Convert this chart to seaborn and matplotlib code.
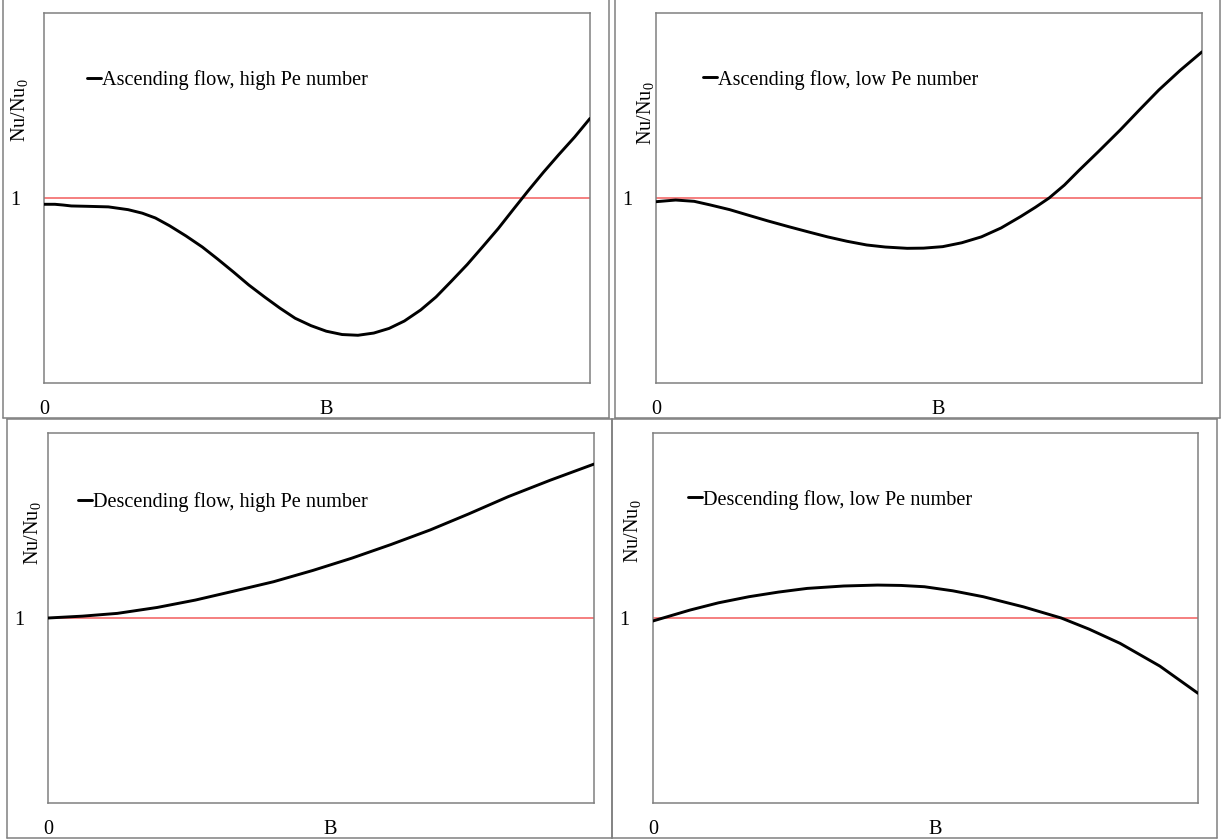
import numpy as np
import pandas as pd
import seaborn as sns
import matplotlib.pyplot as plt
from matplotlib.lines import Line2D

# Data (B as fraction of axis width, Nu/Nu0 with 1 at mid-height)
b_asc_high = [0, 0.02, 0.035, 0.05, 0.08, 0.118, 0.154, 0.18, 0.204, 0.23, 0.26, 0.29,
              0.318, 0.347, 0.375, 0.404, 0.432, 0.46, 0.489, 0.517, 0.546, 0.575, 0.604,
              0.632, 0.66, 0.69, 0.718, 0.746, 0.775, 0.803, 0.832, 0.86, 0.887, 0.915,
              0.943, 0.972, 1.0]
nu_asc_high = [0.966, 0.966, 0.962, 0.957, 0.955, 0.952, 0.937, 0.918, 0.892, 0.85, 0.795, 0.735,
               0.67, 0.6, 0.53, 0.465, 0.405, 0.35, 0.31, 0.28, 0.262, 0.258, 0.27,
               0.295, 0.335, 0.395, 0.465, 0.55, 0.64, 0.735, 0.835, 0.94, 1.04, 1.14,
               1.235, 1.33, 1.43]

b_asc_low = [0, 0.036, 0.07, 0.1, 0.135, 0.168, 0.205, 0.243, 0.28, 0.314, 0.35, 0.386, 0.42,
             0.46, 0.49, 0.525, 0.56, 0.596, 0.632, 0.668, 0.695, 0.72, 0.748, 0.775, 0.81,
             0.85, 0.885, 0.921, 0.96, 1.0]
nu_asc_low = [0.98, 0.989, 0.982, 0.962, 0.937, 0.908, 0.876, 0.845, 0.816, 0.79, 0.766, 0.746,
              0.735, 0.728, 0.729, 0.737, 0.758, 0.79, 0.838, 0.9, 0.95, 1.0, 1.07, 1.15, 1.25,
              1.367, 1.475, 1.584, 1.69, 1.79]

b_desc_high = [0, 0.063, 0.127, 0.2, 0.27, 0.34, 0.413, 0.485, 0.556, 0.628, 0.7, 0.77,
               0.843, 0.92, 1.0]
nu_desc_high = [1.0, 1.01, 1.025, 1.057, 1.097, 1.145, 1.196, 1.257, 1.323, 1.397, 1.476,
                1.562, 1.656, 1.745, 1.832]

b_desc_low = [0, 0.068, 0.12, 0.176, 0.23, 0.283, 0.35, 0.412, 0.455, 0.498, 0.55, 0.606,
              0.68, 0.749, 0.8, 0.857, 0.93, 1.0]
nu_desc_low = [0.984, 1.043, 1.082, 1.115, 1.14, 1.16, 1.173, 1.178, 1.176, 1.169, 1.147,
               1.115, 1.06, 1.0, 0.94, 0.863, 0.74, 0.593]

labels = ["Ascending flow, high Pe number", "Ascending flow, low Pe number",
          "Descending flow, high Pe number", "Descending flow, low Pe number"]
x_ticks = [0, 0.517]
x_ticklabels = ["0", "B"]

sns.set_theme(style="white")
plt.rcParams['font.family'] = ['Liberation Serif', 'DejaVu Serif']
plt.rcParams['mathtext.fontset'] = 'custom'
plt.rcParams['mathtext.rm'] = 'Liberation Serif'
plt.rcParams['mathtext.it'] = 'Liberation Serif:italic'
plt.rcParams['text.color'] = 'black'
plt.rcParams['axes.labelcolor'] = 'black'

W, H = 1225, 840
fig = plt.figure(figsize=(W / 100, H / 100), dpi=100)
gray = '#808080'
fs = 14.6

def px_rect(l, t, r, b):
    return [l / W, 1 - b / H, (r - l) / W, (b - t) / H]

def fig_line(x0, y0, x1, y1):
    fig.add_artist(Line2D([x0 / W, x1 / W], [1 - y0 / H, 1 - y1 / H],
                          transform=fig.transFigure, color=gray, lw=1.1))

# table cell borders
for (l, t, r, b) in [(3, 0, 609, 418), (615, 0, 1220, 418), (7, 419, 612, 838), (612, 419, 1217, 838)]:
    fig_line(l, t, l, b)
    fig_line(r, t, r, b)
    fig_line(l, b, r, b)
fig_line(7, 419, 1217, 419)

panels = [
    (b_asc_high, nu_asc_high, (44, 13, 590, 383), (0.079, 0.819), (-0.044, 0.738)),
    (b_asc_low, nu_asc_low, (656, 13, 1202, 383), (0.086, 0.82), (-0.02, 0.73)),
    (b_desc_high, nu_desc_high, (48, 433, 594, 803), (0.055, 0.814), (-0.029, 0.73)),
    (b_desc_low, nu_desc_low, (653, 433, 1198, 803), (0.064, 0.82), (-0.037, 0.735)),
]

for i, (bx, ny, box, leg_pos, ylab_pos) in enumerate(panels):
    ax = fig.add_axes(px_rect(*box))
    df = pd.DataFrame({'B': bx, 'Nu': ny})
    ax.axhline(1, color='#f25c5c', lw=1.1, zorder=1)
    sns.lineplot(data=df, x='B', y='Nu', ax=ax, color='black', lw=2.1,
                 label=labels[i], zorder=3, sort=False)
    ax.set_xlim(0, 1)
    ax.set_ylim(0, 2)
    ax.set_xticks(x_ticks)
    ax.set_xticklabels(x_ticklabels)
    ax.set_yticks([1])
    ax.set_yticklabels(["1"])
    ax.tick_params(length=0, labelsize=fs, colors='black')
    ax.tick_params(axis='x', pad=12)
    ax.tick_params(axis='y', pad=17)
    ax.set_xlabel("")
    ax.set_ylabel("Nu/Nu$_0$", fontsize=fs, va='center')
    ax.yaxis.set_label_coords(*ylab_pos)
    for s in ax.spines.values():
        s.set_color(gray)
        s.set_linewidth(1.1)
    ax.legend(loc='center left', bbox_to_anchor=leg_pos, frameon=False, fontsize=fs,
              handlelength=0.7, handletextpad=0.05, borderpad=0, borderaxespad=0)

fig.savefig("out.png", dpi=100)
